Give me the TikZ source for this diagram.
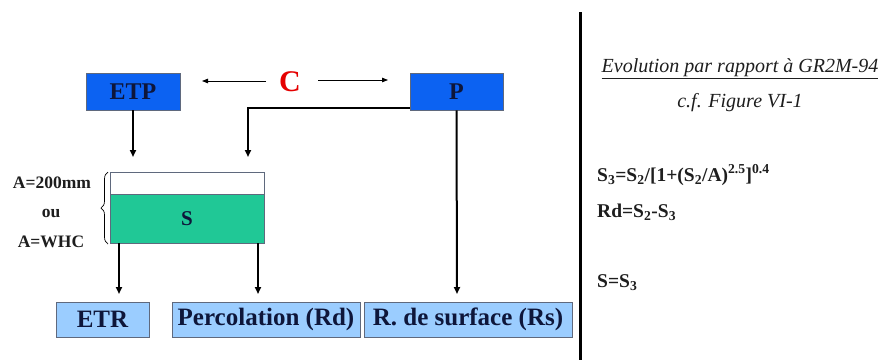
\documentclass[tikz,border=0pt]{standalone}
\usepackage{fontspec}
\setmainfont{Liberation Serif}
\usetikzlibrary{arrows.meta,calc,decorations.pathreplacing}

\definecolor{boxblue}{RGB}{12,98,242}
\definecolor{paleblue}{RGB}{155,205,255}
\definecolor{storegreen}{RGB}{32,200,150}
\definecolor{labelnavy}{RGB}{14,22,58}
\definecolor{inkgray}{RGB}{30,30,30}
\definecolor{edgegray}{RGB}{95,105,125}

\tikzset{
  fluxbox/.style={draw=edgegray, line width=0.8pt, fill=boxblue, text=labelnavy,
    font=\fontsize{24}{28}\selectfont\bfseries, inner sep=0pt,
    minimum height=37pt},
  outbox/.style={draw=edgegray, line width=0.8pt, fill=paleblue, text=labelnavy,
    font=\fontsize{25}{30}\selectfont\bfseries, inner sep=0pt,
    minimum height=35pt},
  flow/.style={line width=2pt, draw=black, -{Triangle[length=7pt,width=6pt]}},
  thinflow/.style={line width=0.8pt, draw=black, -{Triangle[length=6pt,width=4.5pt]}},
  sidenote/.style={font=\fontsize{17.5}{20}\selectfont\bfseries, text=inkgray, inner sep=0pt},
  formula/.style={font=\fontsize{19.5}{22}\selectfont\bfseries, text=inkgray, inner sep=0pt, anchor=west},
  remark/.style={font=\fontsize{20}{24}\selectfont\itshape, text=inkgray, inner sep=0pt},
}

\begin{document}
\begin{tikzpicture}[x=1pt,y=-1pt]
  \useasboundingbox (0,0) rectangle (884,360);
  \fill[white] (0,0) rectangle (884,360);

  % inputs
  \node[fluxbox, minimum width=94pt] (ETP) at (133,91.5) {ETP};
  \node[fluxbox, minimum width=93pt] (P) at (456.5,91.5) {P};
  \node[font=\fontsize{30}{34}\selectfont\bfseries, text=red!90!black, inner sep=0pt] (C) at (290,82) {C};
  \coordinate (cL) at (266,81);
  \coordinate (cLend) at (202,81);
  \coordinate (cR) at (318,80);
  \coordinate (cRend) at (388,80);
  \draw[thinflow] (cL) -- (cLend);
  \draw[thinflow] (cR) -- (cRend);

  % storage reservoir
  \node[draw=edgegray, line width=0.8pt, fill=white, minimum width=154pt, minimum height=22pt, inner sep=0pt] (Sempty) at (187,183) {};
  \node[draw=edgegray, line width=0.8pt, fill=storegreen, minimum width=154pt, minimum height=49pt, inner sep=0pt,
        text=labelnavy, font=\fontsize{21}{24}\selectfont\bfseries] (S) at (187,218.5) {S};

  % capacity brace and labels
  \draw[line width=0.7pt, decorate, decoration={brace, amplitude=7pt}]
    (108,244) -- (108,172);
  \node[sidenote] (A1) at (52,183) {A=200mm};
  \node[sidenote] (ou) at (51,213) {ou};
  \node[sidenote] (A2) at (51,242) {A=WHC};

  % outputs
  \node[outbox, minimum width=93pt] (ETR) at (102.5,319.5) {ETR};
  \node[outbox, minimum width=188pt] (Rd) at (266,319.5) {Percolation (Rd)};
  \node[outbox, minimum width=208pt] (Rs) at (468,319.5) {R. de surface (Rs)};

  % connectors
  \draw[flow] (ETP.south) -- (133,157);
  \coordinate (pEnd) at (248,157);
  \draw[flow] ($(P.south west)+(0,-2)$) -| (pEnd);
  \draw[flow] (P.south) -- (457,294);
  \draw[flow] (119,243) -- (119,294);
  \draw[flow] (258,243) -- (258,294);

  % separator
  \coordinate (sepTop) at (580,12);
  \coordinate (sepBot) at (580,360);
  \draw[line width=3pt] (sepTop) -- (sepBot);

  % notes on the right
  \node[remark] (evo) at (740,69) {\underline{Evolution par rapport à GR2M-94}};
  \node[remark] (cf) at (740,103) {c.f. Figure VI-1};
  \node[formula] (f1) at (597,175) {S\textsubscript{3}=S\textsubscript{2}/[1+(S\textsubscript{2}/A)\textsuperscript{2.5}]\textsuperscript{0.4}};
  \node[formula] (f2) at (597,212) {Rd=S\textsubscript{2}-S\textsubscript{3}};
  \node[formula] (f3) at (597,283) {S=S\textsubscript{3}};
\end{tikzpicture}
\end{document}
